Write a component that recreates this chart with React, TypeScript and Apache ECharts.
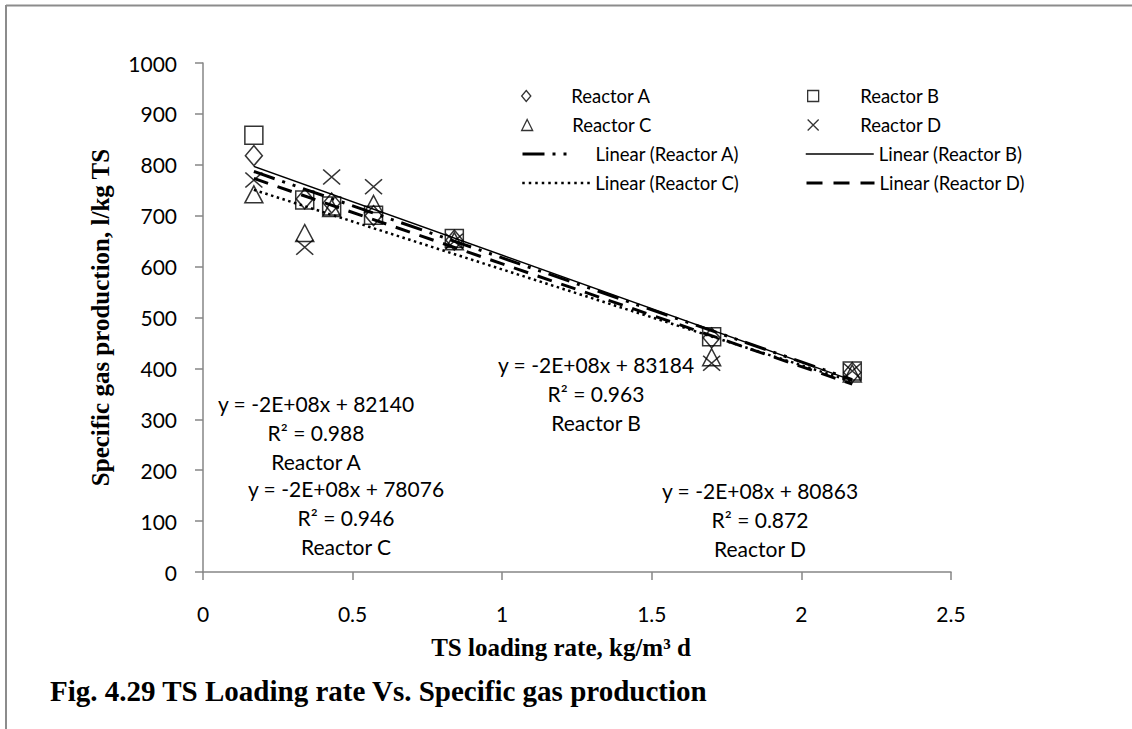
import React, { useEffect, useRef } from "react";
import * as echarts from "echarts";

// ---- data ----
const loadingRate = [0.17, 0.34, 0.43, 0.57, 0.84, 1.7, 2.17];
const reactorA = [818, 733, 725, 700, 652, 460, 392];
const reactorB = [858, 731, 719, 701, 655, 462, 395];
const reactorC = [742, 666, 715, 723, 650, 422, 390];
const reactorD = [770, 638, 776, 757, 650, 410, 395];

const seriesNames = ["Reactor A", "Reactor B", "Reactor C", "Reactor D"];
const trendNames = [
  "Linear (Reactor A)",
  "Linear (Reactor B)",
  "Linear (Reactor C)",
  "Linear (Reactor D)",
];
const equationLines = [
  ["y = -2E+08x + 82140", "R² = 0.988", "Reactor A"],
  ["y = -2E+08x + 83184", "R² = 0.963", "Reactor B"],
  ["y = -2E+08x + 78076", "R² = 0.946", "Reactor C"],
  ["y = -2E+08x + 80863", "R² = 0.872", "Reactor D"],
];
const xTicks = { min: 0, max: 2.5, interval: 0.5 };
const yTicks = { min: 0, max: 1000, interval: 100 };
const xTitle = "TS loading rate, kg/m³ d";
const yTitle = "Specific gas production, l/kg TS";
const caption = "Fig. 4.29 TS Loading rate Vs. Specific gas production";

// ---- styling ----
const SANS = "Lato";
const SERIF = "Liberation Serif";
const AXIS_GRAY = "#868686";

const symbolPaths = [
  "path://M5,0L10,6L5,12L0,6Z",
  "path://M0,0L10,0L10,10L0,10Z",
  "path://M5,0L10,10L0,10Z",
  "path://M0,0L10,10M10,0L0,10",
];
const symbolSizes = [
  [17, 20],
  [18, 18],
  [18, 17],
  [17, 15],
];
const trendStyles = [
  { width: 3, type: [22, 8, 3, 8, 3, 8] },
  { width: 1.5, type: "solid" },
  { width: 2.5, type: [2.5, 3.5] },
  { width: 3, type: [15, 10] },
];
const legendLineTypes = [[22, 8, 3, 8, 3, 100], "solid", [2.5, 4], [16, 11]];

function fit(xs: number[], ys: number[]) {
  const n = xs.length;
  const mx = xs.reduce((a, b) => a + b, 0) / n;
  const my = ys.reduce((a, b) => a + b, 0) / n;
  let sxy = 0;
  let sxx = 0;
  for (let i = 0; i < n; i++) {
    sxy += (xs[i] - mx) * (ys[i] - my);
    sxx += (xs[i] - mx) * (xs[i] - mx);
  }
  const slope = sxy / sxx;
  return { slope, intercept: my - slope * mx };
}

export default function App() {
  const ref = useRef<HTMLDivElement>(null);

  useEffect(() => {
    if (!ref.current) return;
    const chart = echarts.init(ref.current, undefined, { renderer: "svg" });
    const values = [reactorA, reactorB, reactorC, reactorD];
    const xMin = Math.min(...loadingRate);
    const xMax = Math.max(...loadingRate);

    const scatterSeries = values.map((vals, i) => ({
      name: seriesNames[i],
      type: "scatter",
      symbol: symbolPaths[i],
      symbolSize: symbolSizes[i],
      itemStyle: { color: "rgba(0,0,0,0)", borderColor: "#000", borderWidth: 1.5 },
      data: loadingRate.map((x, j) => [x, vals[j]]),
      z: 3,
    }));

    const trendSeries = values.map((vals, i) => {
      const { slope, intercept } = fit(loadingRate, vals);
      return {
        name: trendNames[i],
        type: "line",
        symbol: "none",
        silent: true,
        itemStyle: { color: "#000" },
        lineStyle: { color: "#000", width: trendStyles[i].width, type: trendStyles[i].type, cap: "butt" },
        data: [
          [xMin, intercept + slope * xMin],
          [xMax, intercept + slope * xMax],
        ],
        z: 2,
      };
    });

    const legendText = { fontFamily: SANS, fontSize: 18.5, color: "#000", lineHeight: 20 };
    const rowY = [96, 125, 154, 183];
    const colSym = [549, 835];
    const colLine = [521, 805];
    const legends: any[] = [];
    seriesNames.forEach((name, i) => {
      const col = i % 2;
      const row = Math.floor(i / 2);
      legends.push({
        data: [
          {
            name,
            icon: symbolPaths[i],
            itemStyle: { color: "rgba(0,0,0,0)", borderColor: "#000", borderWidth: 1.3 },
          },
        ],
        left: colSym[col] - 28,
        top: rowY[row] - 10,
        itemWidth: 56,
        itemHeight: 11,
        padding: 0,
        selectedMode: false,
        textStyle: { ...legendText, padding: [0, 0, 0, col === 0 ? 12 : 14] },
      });
    });
    trendNames.forEach((name, i) => {
      const col = i % 2;
      const row = 2 + Math.floor(i / 2);
      legends.push({
        data: [
          {
            name,
            itemStyle: { color: "#000", opacity: 0 },
            lineStyle: { color: "#000", width: trendStyles[i].width, type: legendLineTypes[i], cap: "butt" },
          },
        ],
        left: colLine[col],
        top: rowY[row] - 10,
        itemWidth: 68,
        itemHeight: 12,
        padding: 0,
        selectedMode: false,
        textStyle: legendText,
      });
    });

    const eqPos = [
      [316, 403],
      [596, 364],
      [346, 488],
      [760, 490],
    ];
    const eqGraphics: any[] = [];
    equationLines.forEach((lines, i) => {
      lines.forEach((t, k) => {
        eqGraphics.push({
          type: "text",
          x: eqPos[i][0],
          y: eqPos[i][1] + k * 29,
          silent: true,
          style: {
            text: t,
            fontFamily: SANS,
            fontSize: 21,
            fill: "#000",
            align: "center",
            verticalAlign: "middle",
          },
        });
      });
    });

    chart.setOption({
      animation: false,
      backgroundColor: "#fff",
      grid: { left: 203, right: 181, top: 63, bottom: 157, outerBoundsMode: "none" },
      xAxis: {
        type: "value",
        ...xTicks,
        name: xTitle,
        nameLocation: "middle",
        nameGap: 63,
        nameTextStyle: {
          fontFamily: SERIF,
          fontWeight: "bold",
          fontSize: 25,
          color: "#000",
          padding: [0, 32, 0, 0],
        },
        axisLine: { show: true, onZero: false, lineStyle: { color: AXIS_GRAY, width: 1.5 } },
        axisTick: { show: true, length: 8, lineStyle: { color: AXIS_GRAY, width: 1.5 } },
        axisLabel: { fontFamily: SANS, fontSize: 21, color: "#000", margin: 31, formatter: (v: number) => String(v) },
        splitLine: { show: false },
      },
      yAxis: {
        type: "value",
        ...yTicks,
        name: yTitle,
        nameLocation: "middle",
        nameRotate: 90,
        nameGap: 90,
        nameTextStyle: { fontFamily: SERIF, fontWeight: "bold", fontSize: 25, color: "#000" },
        axisLine: { show: true, onZero: false, lineStyle: { color: AXIS_GRAY, width: 1.5 } },
        axisTick: { show: true, length: 8, lineStyle: { color: AXIS_GRAY, width: 1.5 } },
        axisLabel: { fontFamily: SANS, fontSize: 21, color: "#000", margin: 26, formatter: (v: number) => String(v) },
        splitLine: { show: false },
      },
      legend: legends,
      series: [...trendSeries, ...scatterSeries],
      graphic: [
        {
          type: "line",
          silent: true,
          shape: { x1: 6, y1: 5.5, x2: 1132, y2: 5.5 },
          style: { stroke: "#8c8c8c", lineWidth: 2 },
        },
        {
          type: "line",
          silent: true,
          shape: { x1: 6, y1: 5, x2: 6, y2: 729 },
          style: { stroke: "#8c8c8c", lineWidth: 2 },
        },
        ...eqGraphics,
        {
          type: "text",
          x: 50,
          y: 691,
          silent: true,
          style: {
            text: caption,
            fontFamily: SERIF,
            fontWeight: "bold",
            fontSize: 29,
            fill: "#000",
            align: "left",
            verticalAlign: "middle",
          },
        },
      ],
    });

    return () => chart.dispose();
  }, []);

  return (
    <div
      ref={ref}
      style={{ position: "absolute", left: 0, top: 0, width: 1132, height: 729 }}
    />
  );
}
